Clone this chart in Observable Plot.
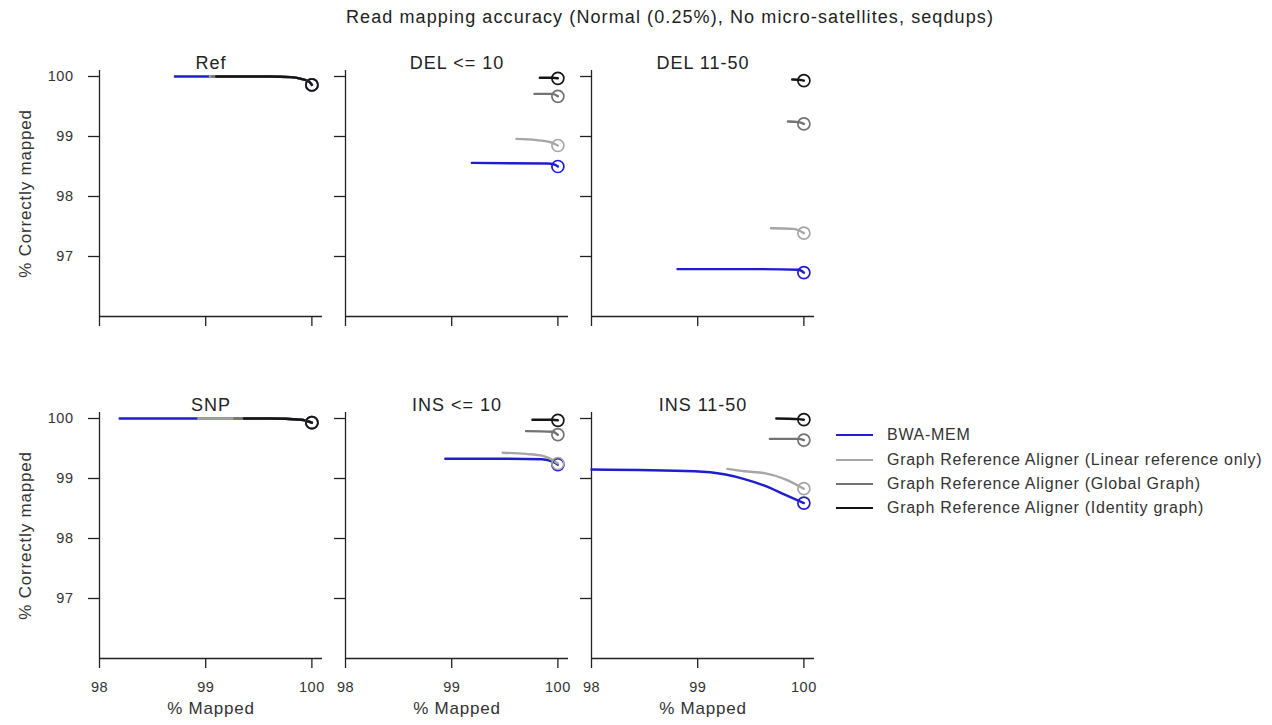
<!DOCTYPE html>
<html>
<head>
<meta charset="utf-8">
<script src="https://cdn.jsdelivr.net/npm/d3@7"></script>
<script src="https://cdn.jsdelivr.net/npm/@observablehq/plot@0.6"></script>
<style>
  body { margin: 0; background: #fff; font-family: "Liberation Sans", Arial, sans-serif; }
  #wrap { position: relative; width: 1272px; height: 725px; overflow: hidden; }
  #wrap svg { position: absolute; left: 0; top: 0; }
  #title { position: absolute; top: 7px; left: 0; width: 1340px; text-align: center; font-size: 18px; color: #222; letter-spacing: 1.1px; }
  #legend { position: absolute; left: 836px; top: 0; }
  .lrow { position: absolute; left: 0; height: 20px; white-space: nowrap; }
  .lsw { position: absolute; left: 0; top: 9px; width: 37px; height: 0; border-top: 2.5px solid; }
  .ltx { position: absolute; left: 51px; top: 0; font-size: 16px; color: #333; line-height: 20px; letter-spacing: 0.72px; }
</style>
</head>
<body>
<div id="wrap">
  <div id="title">Read mapping accuracy (Normal (0.25%), No micro-satellites, seqdups)</div>
  <div id="legend"></div>
</div>
<script>
// ---- data ----
const panelNames = ["Ref", "DEL <= 10", "DEL 11-50", "SNP", "INS <= 10", "INS 11-50"];
const seriesNames = [
  "BWA-MEM",
  "Graph Reference Aligner (Linear reference only)",
  "Graph Reference Aligner (Global Graph)",
  "Graph Reference Aligner (Identity graph)"
];
const seriesColors = ["#1e1ecc", "#a6a6a6", "#737373", "#151515"];
const xTicks = [98, 99, 100];
const yTicks = [97, 98, 99, 100];
const xLabel = "% Mapped";
const yLabel = "% Correctly mapped";

// per panel: one list per series (BWA, Linear, Global, Identity)
const refMapped = [
  [98.71, 99.2, 99.6, 99.8, 99.9, 99.97, 100],
  [99.04, 99.6, 99.8, 99.9, 99.97, 100],
  [99.06, 99.6, 99.8, 99.9, 99.97, 100],
  [99.1, 99.6, 99.8, 99.9, 99.97, 100]
];
const refCorrect = [
  [100, 100, 100, 99.99, 99.96, 99.92, 99.86],
  [100, 100, 99.99, 99.96, 99.92, 99.86],
  [100, 100, 99.99, 99.96, 99.92, 99.86],
  [100, 100, 99.99, 99.96, 99.92, 99.86]
];
const del10Mapped = [
  [99.19, 99.9, 99.97, 100],
  [99.61, 99.8, 99.92, 100],
  [99.78, 99.95, 100],
  [99.83, 99.95, 100]
];
const del10Correct = [
  [98.56, 98.55, 98.53, 98.5],
  [98.96, 98.94, 98.91, 98.85],
  [99.71, 99.71, 99.67],
  [99.98, 99.98, 99.97]
];
const del50Mapped = [
  [98.81, 99.5, 99.95, 100],
  [99.69, 99.9, 100],
  [99.85, 99.95, 100],
  [99.89, 99.98, 100]
];
const del50Correct = [
  [96.79, 96.79, 96.78, 96.73],
  [97.47, 97.46, 97.39],
  [99.25, 99.24, 99.21],
  [99.95, 99.94, 99.93]
];
const snpMapped = [
  [98.19, 99.0, 99.6, 99.9, 100],
  [98.93, 99.6, 99.9, 100],
  [99.27, 99.6, 99.9, 100],
  [99.36, 99.6, 99.9, 100]
];
const snpCorrect = [
  [100, 100, 100, 99.98, 99.93],
  [100, 100, 99.98, 99.93],
  [100, 100, 99.98, 99.93],
  [100, 100, 99.98, 99.93]
];
const ins10Mapped = [
  [98.94, 99.5, 99.85, 99.95, 100],
  [99.48, 99.7, 99.85, 99.95, 100],
  [99.70, 99.95, 100],
  [99.76, 99.95, 100]
];
const ins10Correct = [
  [99.33, 99.33, 99.32, 99.28, 99.23],
  [99.43, 99.41, 99.38, 99.31, 99.25],
  [99.79, 99.78, 99.73],
  [99.98, 99.98, 99.97]
];
const ins50Mapped = [
  [98.0, 98.97, 99.25, 99.44, 99.63, 99.82, 100],
  [99.28, 99.44, 99.63, 99.82, 100],
  [99.68, 99.95, 100],
  [99.74, 99.95, 100]
];
const ins50Correct = [
  [99.15, 99.12, 99.07, 98.99, 98.88, 98.73, 98.59],
  [99.16, 99.12, 99.09, 98.99, 98.83],
  [99.66, 99.66, 99.64],
  [100.0, 99.99, 99.98]
];

const panelMapped = [refMapped, del10Mapped, del50Mapped, snpMapped, ins10Mapped, ins50Mapped];
const panelCorrect = [refCorrect, del10Correct, del50Correct, snpCorrect, ins10Correct, ins50Correct];

// ---- tidy table ----
const rows = [];
panelNames.forEach((name, p) => {
  seriesNames.forEach((s, k) => {
    panelMapped[p][k].forEach((x, i) => {
      rows.push({panel: name, col: p % 3, row: Math.floor(p / 3), series: s, mapped: x, correct: panelCorrect[p][k][i]});
    });
  });
});
const panelInfo = panelNames.map((name, p) => ({name, col: p % 3, row: Math.floor(p / 3)}));
const yLabelInfo = [0, 1].map(r => ({col: 0, row: r, label: yLabel}));
const xLabelInfo = [0, 1, 2].map(c => ({col: c, row: 1, label: xLabel}));

const axisColor = "#222";
const textColor = "#333";
const intFormat = d3.format("d");

const chart = Plot.plot({
  width: 1272,
  height: 725,
  marginLeft: 98,
  marginRight: 456,
  marginTop: 69,
  marginBottom: 67,
  style: {fontFamily: "'Liberation Sans', Arial, sans-serif", background: "transparent", color: axisColor, letterSpacing: "0.5px"},
  x: {domain: [98, 100.1]},
  y: {domain: [96, 100.1]},
  fx: {domain: [0, 1, 2], axis: null, paddingInner: 0.093, paddingOuter: 0},
  fy: {domain: [0, 1], axis: null, paddingInner: 0.282, paddingOuter: 0},
  color: {domain: seriesNames, range: seriesColors},
  marks: [
    // spines
    Plot.ruleX([98], {stroke: axisColor, strokeWidth: 1.3}),
    Plot.ruleY([96], {stroke: axisColor, strokeWidth: 1.3}),
    // tick marks in every panel
    Plot.axisY({ticks: yTicks, tickSize: 11, fill: "none", label: null, facetAnchor: null, stroke: axisColor, strokeWidth: 1.3}),
    Plot.axisX({ticks: xTicks, tickSize: 10, fill: "none", label: null, facetAnchor: null, stroke: axisColor, strokeWidth: 1.3}),
    // tick labels on outer panels only
    Plot.axisY({ticks: yTicks, tickFormat: intFormat, tickSize: 0, tickPadding: 26, label: null, facetAnchor: "left", fill: textColor, fontSize: 14.5}),
    Plot.axisX({ticks: xTicks, tickFormat: intFormat, tickSize: 0, tickPadding: 23, label: null, facetAnchor: "bottom", fill: textColor, fontSize: 14.5}),
    // series
    Plot.line(rows, {x: "mapped", y: "correct", z: "series", stroke: "series", fx: "col", fy: "row", strokeWidth: 2.4, curve: "monotone-x"}),
    Plot.dot(rows, Plot.selectLast({x: "mapped", y: "correct", z: "series", stroke: "series", fx: "col", fy: "row", r: 6, strokeWidth: 1.7, fill: "none"})),
    // panel titles and axis labels
    Plot.text(panelInfo, {fx: "col", fy: "row", text: "name", frameAnchor: "top", dy: -14, fontSize: 18, fill: "#222"}),
    Plot.text(yLabelInfo, {fx: "col", fy: "row", text: "label", frameAnchor: "left", textAnchor: "middle", rotate: -90, dx: -74, fontSize: 17, fill: textColor}),
    Plot.text(xLabelInfo, {fx: "col", fy: "row", text: "label", frameAnchor: "bottom", textAnchor: "middle", dy: 55, fontSize: 17, fill: textColor})
  ]
});
document.getElementById("wrap").prepend(chart);
// slightly wider letter spacing on panel titles and axis labels
chart.querySelectorAll("text").forEach(t => {
  const fs = parseFloat(t.closest("g[font-size]")?.getAttribute("font-size") || "0");
  if (fs >= 18) t.style.letterSpacing = "1px";
  else if (fs >= 17) t.style.letterSpacing = "0.8px";
});

// legend
const legend = document.getElementById("legend");
const legendY = [435, 460, 484, 508];
seriesNames.forEach((s, k) => {
  const row = document.createElement("div");
  row.className = "lrow";
  row.style.top = (legendY[k] - 10) + "px";
  const sw = document.createElement("div");
  sw.className = "lsw";
  sw.style.borderTopColor = seriesColors[k];
  const tx = document.createElement("div");
  tx.className = "ltx";
  tx.textContent = s;
  row.append(sw, tx);
  legend.append(row);
});
</script>
</body>
</html>
